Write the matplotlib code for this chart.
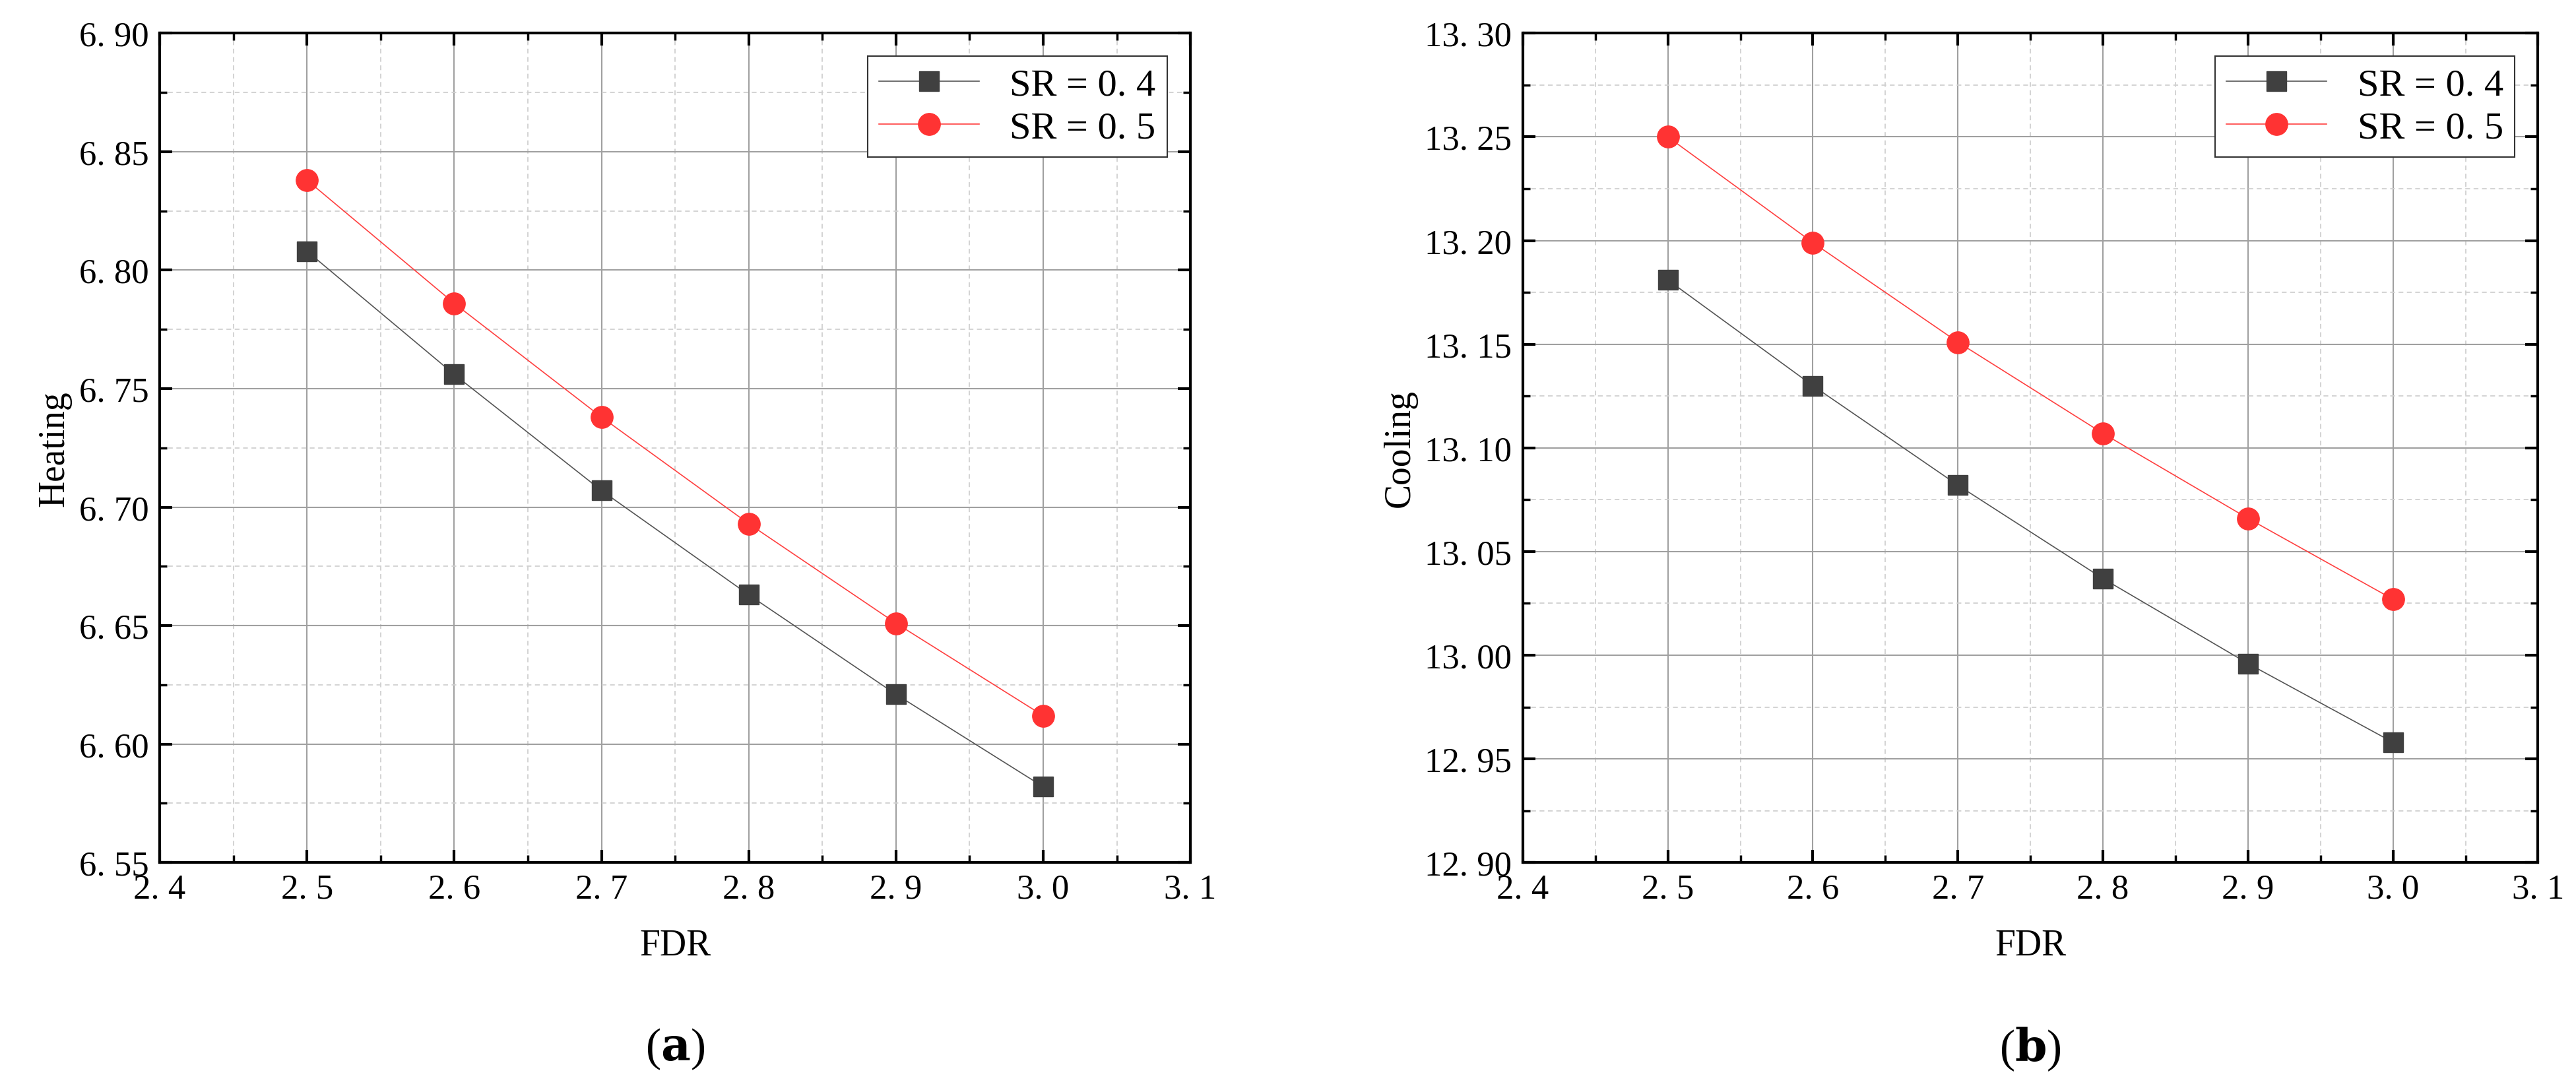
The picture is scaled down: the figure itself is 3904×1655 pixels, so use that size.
import matplotlib
matplotlib.use("Agg")
import matplotlib.pyplot as plt
from matplotlib.ticker import MultipleLocator, FuncFormatter

fdr = [2.5, 2.6, 2.7, 2.8, 2.9, 3.0]
heat_sr04 = [6.808, 6.756, 6.707, 6.663, 6.621, 6.582]
heat_sr05 = [6.838, 6.786, 6.738, 6.693, 6.651, 6.612]
cool_sr04 = [13.181, 13.130, 13.082, 13.037, 12.996, 12.958]
cool_sr05 = [13.250, 13.199, 13.151, 13.107, 13.066, 13.027]

plt.rcParams['font.family'] = ['Liberation Serif', 'DejaVu Serif']
plt.rcParams['mathtext.fontset'] = 'dejavuserif'
fig = plt.figure(figsize=(39.05, 16.56), dpi=100)

def spaced(v, nd):
    s = f"{v:.{nd}f}"
    return s.replace('.', '. ')

def setup(ax, y04, y05, ylim, ylabel, label, xl):
    ax.plot(fdr, y04, color='#555555', lw=1.2, marker='s', ms=22, mfc='#404040', mec='#404040', label='SR = 0. 4', zorder=3)
    ax.plot(fdr, y05, color='#ff4040', lw=1.2, marker='o', ms=24, mfc='#ff3333', mec='#ff3333', label='SR = 0. 5', zorder=3)
    ax.set_xlim(2.4, 3.1)
    ax.set_ylim(*ylim)
    ax.xaxis.set_major_locator(MultipleLocator(0.1))
    ax.xaxis.set_minor_locator(MultipleLocator(0.05))
    ax.yaxis.set_major_locator(MultipleLocator(0.05))
    ax.yaxis.set_minor_locator(MultipleLocator(0.025))
    ax.xaxis.set_major_formatter(FuncFormatter(lambda v, p: spaced(v, 1)))
    ax.yaxis.set_major_formatter(FuncFormatter(lambda v, p: spaced(v, 2)))
    ax.grid(which='major', color='#a0a0a0', lw=1.5, ls='-')
    ax.grid(which='minor', color='#d0d0d0', lw=1.3, ls=(0, (4, 3)))
    ax.set_axisbelow(True)
    ax.tick_params(which='major', direction='in', length=14, width=3, top=True, right=True, labelsize=38, pad=12)
    ax.tick_params(which='minor', direction='in', length=8, width=2.5, top=True, right=True)
    for s in ax.spines.values():
        s.set_linewidth(3)
    ax.set_xlabel('FDR', fontsize=40, labelpad=25)
    ax.set_ylabel(ylabel, fontsize=40, labelpad=8)
    leg = ax.legend(loc='upper right', fontsize=42, frameon=True, fancybox=False, edgecolor='#333333',
                    framealpha=1, borderaxespad=0.6, handlelength=2.6, labelspacing=0.2, borderpad=0.3)
    leg.get_frame().set_linewidth(1.5)
    fig.text(xl, 0.04, label, fontsize=50, ha='center', va='center')

ax1 = fig.add_axes([0.062, 0.21, 0.400, 0.759])
setup(ax1, heat_sr04, heat_sr05, (6.55, 6.90), 'Heating', r'($\mathbf{a}$)', 0.262)
ax2 = fig.add_axes([0.591, 0.21, 0.394, 0.759])
setup(ax2, cool_sr04, cool_sr05, (12.90, 13.30), 'Cooling', r'($\mathbf{b}$)', 0.788)
fig.savefig('out.png', dpi=100)
